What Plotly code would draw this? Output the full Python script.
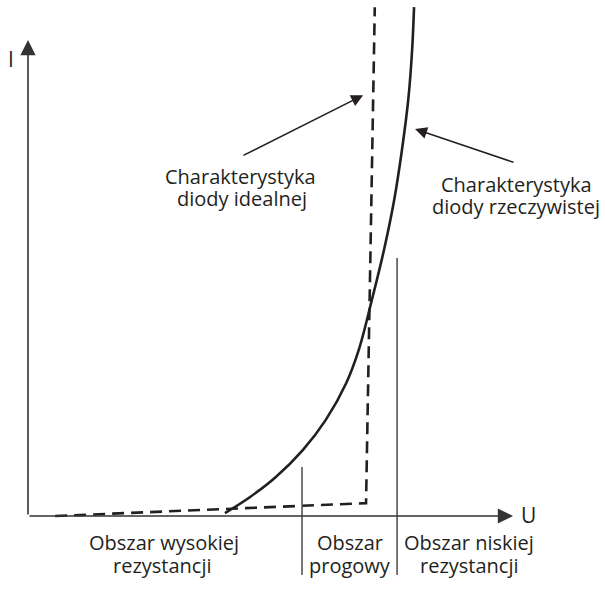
import plotly.graph_objects as go

# Real diode characteristic (U, I in relative units)
u_real = [0.406, 0.458, 0.511, 0.567, 0.614, 0.656, 0.682, 0.709, 0.734,
          0.755, 0.771, 0.784, 0.792, 0.796]
i_real = [0.006, 0.040, 0.082, 0.139, 0.202, 0.279, 0.349, 0.454, 0.559,
          0.664, 0.769, 0.874, 0.979, 1.069]

# Ideal diode characteristic (piecewise linear)
u_ideal = [0.056, 0.697, 0.715]
i_ideal = [0.000, 0.027, 1.069]

# Region boundaries on the U axis and the top of each separator line
region_bounds = [0.565, 0.761]
region_tops = [0.103, 0.542]
region_bottom = -0.124

INK = "#231f20"
FONT = "Open Sans"

fig = go.Figure()

fig.add_trace(go.Scatter(
    x=u_ideal, y=i_ideal, mode="lines",
    line=dict(color=INK, width=2.6, dash="12px,7px"),
    hoverinfo="skip", showlegend=False))

fig.add_trace(go.Scatter(
    x=u_real, y=i_real, mode="lines",
    line=dict(color=INK, width=2.6, shape="spline", smoothing=1.0),
    hoverinfo="skip", showlegend=False))

# Thin separators between the regions
for xb, top in zip(region_bounds, region_tops):
    fig.add_trace(go.Scatter(
        x=[xb, xb], y=[region_bottom, top], mode="lines",
        line=dict(color="#555555", width=1.6),
        hoverinfo="skip", showlegend=False))

annotations = []

# Axes drawn as arrows
annotations.append(dict(x=0, y=1.0, ax=0, ay=0, xref="x", yref="y",
                        axref="x", ayref="y", text="", showarrow=True,
                        arrowhead=2, arrowwidth=1.6, arrowsize=1.9,
                        arrowcolor="#333333", standoff=0))
annotations.append(dict(x=1.0, y=0, ax=0, ay=0, xref="x", yref="y",
                        axref="x", ayref="y", text="", showarrow=True,
                        arrowhead=2, arrowwidth=1.6, arrowsize=1.9,
                        arrowcolor="#333333", standoff=0))

# Pointer arrows to each curve
annotations.append(dict(x=0.691, y=0.884, ax=0.441, ay=0.756, xref="x", yref="y",
                        axref="x", ayref="y", text="", showarrow=True,
                        arrowhead=2, arrowwidth=1.5, arrowsize=1.6,
                        arrowcolor=INK, standoff=0))
annotations.append(dict(x=0.798, y=0.813, ax=1.004, ay=0.742, xref="x", yref="y",
                        axref="x", ayref="y", text="", showarrow=True,
                        arrowhead=2, arrowwidth=1.5, arrowsize=1.6,
                        arrowcolor=INK, standoff=0))

labels = [
    ("I", -0.036, 0.960, 21),
    ("U", 1.031, 0.002, 21),
    ("Charakterystyka", 0.439, 0.714, 20),
    ("diody idealnej", 0.441, 0.668, 20),
    ("Charakterystyka", 1.008, 0.697, 20),
    ("diody rzeczywistej", 1.006, 0.651, 20),
    ("Obszar wysokiej", 0.280, -0.055, 20),
    ("rezystancji", 0.278, -0.105, 20),
    ("Obszar", 0.664, -0.055, 20),
    ("progowy", 0.664, -0.105, 20),
    ("Obszar niskiej", 0.909, -0.055, 20),
    ("rezystancji", 0.911, -0.105, 20),
]
for text, x, y, size in labels:
    annotations.append(dict(x=x, y=y, xref="x", yref="y", text=text,
                            showarrow=False, xanchor="center", yanchor="middle",
                            font=dict(family=FONT, size=size, color=INK)))

fig.update_layout(
    width=605, height=603, autosize=False,
    margin=dict(l=0, r=0, t=0, b=0),
    paper_bgcolor="white", plot_bgcolor="white",
    xaxis=dict(range=[-28 / 485, 577 / 485], visible=False, fixedrange=True),
    yaxis=dict(range=[-87 / 476, 516 / 476], visible=False, fixedrange=True),
    annotations=annotations,
)

fig.write_html("out.html")
